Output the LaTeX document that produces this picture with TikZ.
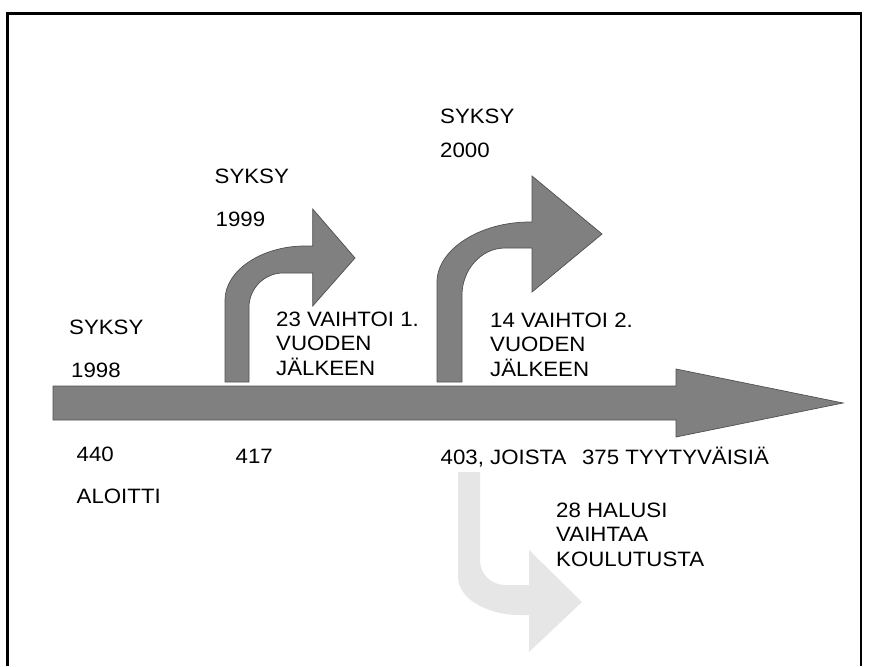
\documentclass[tikz,border=0pt]{standalone}
\usepackage{fontspec}
\setmainfont{Liberation Sans}[FakeStretch=1.07]
\begin{document}
\begin{tikzpicture}[x=1pt,y=-1pt,
  lbl/.style={anchor=base west,inner sep=0pt,align=left,font=\fontsize{20.8}{24.3}\selectfont},
  darkarrow/.style={fill=arrowgray,draw=arrowedge,line width=0.7pt,line join=miter},
  lightarrow/.style={fill=lightgray2,draw=none}]
\definecolor{arrowgray}{HTML}{808080}
\definecolor{arrowedge}{HTML}{505050}
\definecolor{lightgray2}{HTML}{E6E6E6}
\useasboundingbox (0,0) rectangle (869,666);
% frame
\draw[line width=2.3pt] (7.5,666) -- (7.5,13.5) -- (861,13.5) -- (861,666);
% main arrow
\draw[darkarrow] (53,386) -- (676,386) -- (676,369) -- (843,403) -- (676,437) -- (676,420) -- (53,420) -- cycle;
% bent arrow 1999
\draw[darkarrow] (225,382) -- (225,300)
  .. controls (225,271) and (261,246) .. (305,246) -- (312.7,246)
  -- (312.7,209) -- (355,258) -- (312.7,306) -- (312.7,273) -- (283,273)
  .. controls (264,273) and (249,289) .. (249,307) -- (249,382) -- cycle;
% bent arrow 2000
\draw[darkarrow] (437,382) -- (437,282)
  .. controls (437,250) and (479,222) .. (530,222) -- (532,222)
  -- (532,176) -- (602,234) -- (532,292) -- (532,248) -- (505,248)
  .. controls (481,248) and (462,270) .. (462,295) -- (462,382) -- cycle;
% light down arrow
\path[lightarrow] (458,472) -- (458,577)
  .. controls (458,598) and (486,615) .. (520,615) -- (529,615)
  -- (529,652) -- (582,602) -- (529,550) -- (529,585) -- (505,585)
  .. controls (491,585) and (480,574) .. (480,560) -- (480,472) -- cycle;
% labels
\node[lbl] (s98) at (69,334) {SYKSY};
\node[lbl] (y98) at (71,377) {1998};
\node[lbl] (n440) at (76.5,461) {440};
\node[lbl] (alo) at (76.5,503) {ALOITTI};
\node[lbl] (s99) at (214.5,183.5) {SYKSY};
\node[lbl] (y99) at (215.5,226) {1999};
\node[lbl] (s00) at (440,124) {SYKSY};
\node[lbl] (y00) at (440,157) {2000};
\node[lbl] (v1) at (276,375) {23 VAIHTOI 1.\\VUODEN\\JÄLKEEN};
\node[lbl] (v2) at (490,376) {14 VAIHTOI 2.\\VUODEN\\JÄLKEEN};
\node[lbl] (n417) at (235.5,463) {417};
\node[lbl] (n403) at (440.5,464) {403, JOISTA\hspace{0.75em}375 TYYTYVÄISIÄ};
\node[lbl] (hal) at (556,566) {28 HALUSI\\VAIHTAA\\KOULUTUSTA};
\end{tikzpicture}
\end{document}
